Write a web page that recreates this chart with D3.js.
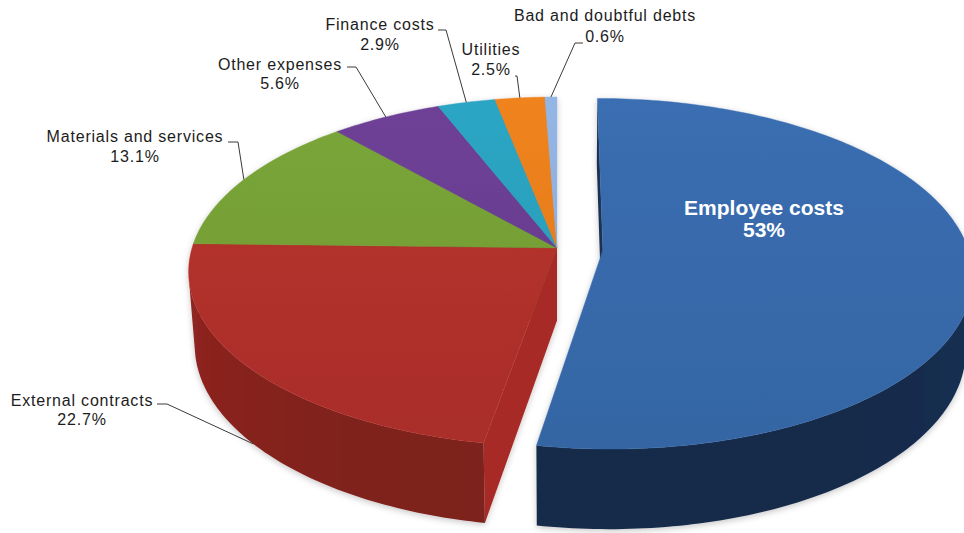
<!DOCTYPE html>
<html>
<head>
<meta charset="utf-8">
<script src="https://cdn.jsdelivr.net/npm/d3@7"></script>
<style>
  html, body { margin: 0; padding: 0; background: #ffffff; }
  svg { display: block; }
</style>
</head>
<body>
<svg id="chart" width="964" height="533"></svg>
<script>
// ---- Data ----
const categories = [
  "Employee costs",
  "External contracts",
  "Materials and services",
  "Other expenses",
  "Finance costs",
  "Utilities",
  "Bad and doubtful debts"
];
const shares = [53, 22.7, 13.1, 5.6, 2.9, 2.5, 0.6];
const valueLabels = ["53%", "22.7%", "13.1%", "5.6%", "2.9%", "2.5%", "0.6%"];

// ---- Styles ----
const topColors  = ["#386aac", "#b2302c", "#76a036", "#6a3e92", "#2aa0bd", "#e87e1e", "#8fb0dd"];
const wallColors = ["#1b3257", "#982722", "#5a7d28", "#4f2d6e", "#1f7a91", "#b45f14", "#6d8ab4"];
const cutColors  = ["#1b3253", "#a82c28", "#668d2e", "#5a357f", "#238ca5", "#cc6e18", "#7d9cc6"];

// ---- Layout of the 3D pie (perspective camera) ----
const cx = 557, cy = 248;          // screen position of the pie centre (top face)
const pxPerRadius = 365;           // projected radius at the centre depth
const tilt = Math.asin(0.47);      // camera elevation
const camDist = 6.5;               // camera distance, in pie radii
const thick = 0.229;               // slab thickness, in pie radii
const explodeDist = 0.126;         // pull-out distance of the detached slice
const explodedSlice = "Employee costs";

const focal = pxPerRadius * camDist;
const sinT = Math.sin(tilt), cosT = Math.cos(tilt);
const cam = [0, camDist * sinT, camDist * cosT];

function project([X, Y, Z]) {
  const depth = camDist - Y * sinT - Z * cosT;
  return [cx + focal * X / depth, cy - focal * (Y * cosT - Z * sinT) / depth];
}
// point on a circle of radius r at pie angle a (0 = far side, clockwise), height y
function rimPoint(a, r, y, off) {
  return [off[0] + r * Math.sin(a), y, off[2] - r * Math.cos(a)];
}
function dirOf(a) { return [Math.sin(a), 0, -Math.cos(a)]; }
function sub(p, q) { return [p[0] - q[0], p[1] - q[1], p[2] - q[2]]; }
function dot(p, q) { return p[0] * q[0] + p[1] * q[1] + p[2] * q[2]; }
function dist(p, q) { const d = sub(p, q); return Math.sqrt(dot(d, d)); }

const rows = categories.map((c, i) => ({ name: c, value: shares[i], label: valueLabels[i], i }));
const arcs = d3.pie().sort(null).value(d => d.value)(rows);

const svg = d3.select("#chart");
const defs = svg.append("defs");
const line = d3.line();

// soft shadow under the slab
const shadow = defs.append("filter").attr("id", "soft").attr("x", "-10%").attr("y", "-10%").attr("width", "120%").attr("height", "125%");
shadow.append("feDropShadow").attr("dx", 0).attr("dy", 2).attr("stdDeviation", 3)
  .attr("flood-color", "#000").attr("flood-opacity", 0.22);

// gradients for the top faces: lighter far away, darker near the viewer
arcs.forEach(a => {
  const base = d3.color(topColors[a.data.i]);
  const g = defs.append("linearGradient")
    .attr("id", "top" + a.data.i)
    .attr("gradientUnits", "userSpaceOnUse")
    .attr("x1", 0).attr("y1", 95).attr("x2", 0).attr("y2", 530);
  g.append("stop").attr("offset", 0).attr("stop-color", base.brighter(0.1));
  g.append("stop").attr("offset", 1).attr("stop-color", base.darker(0.2));
});

const sideFaces = [];
const topFaces = [];

arcs.forEach(a => {
  const i = a.data.i;
  const s = a.startAngle, e = a.endAngle, mid = (s + e) / 2;
  const k = a.data.name === explodedSlice ? explodeDist : 0;
  const off = [k * Math.sin(mid), 0, -k * Math.cos(mid)];
  a.offset = off;

  // outer wall: find runs of segments that face the camera, one shaded path per run
  const nSeg = Math.max(2, Math.ceil((e - s) / (Math.PI / 180)));
  const angAt = j => s + (e - s) * j / nSeg;
  let run = null;
  const runs = [];
  for (let j = 0; j < nSeg; j++) {
    const am = (angAt(j) + angAt(j + 1)) / 2;
    const ref = rimPoint(am, 1, -thick / 2, off);
    const vis = dot(sub(cam, ref), dirOf(am)) > 0;
    if (vis) { if (!run) { run = { j0: j, j1: j + 1 }; runs.push(run); } else run.j1 = j + 1; }
    else run = null;
  }
  runs.forEach((r, ri) => {
    const angs = d3.range(r.j0, r.j1 + 1).map(angAt);
    const topPts = angs.map(t => rimPoint(t, 1, 0, off));
    const botPts = angs.map(t => rimPoint(t, 1, -thick, off)).reverse();
    const xs = topPts.map(p => project(p)[0]);
    const id = `wall${i}_${ri}`;
    const g = defs.append("linearGradient").attr("id", id)
      .attr("gradientUnits", "userSpaceOnUse")
      .attr("x1", xs[0]).attr("y1", 0).attr("x2", xs[xs.length - 1]).attr("y2", 0);
    const span = xs[xs.length - 1] - xs[0];
    let last = 0;
    angs.forEach((t, q) => {
      const o = Math.min(1, Math.max(last, (xs[q] - xs[0]) / span));
      last = o;
      const shade = Math.max(0, -Math.cos(t));
      g.append("stop").attr("offset", o).attr("stop-color", d3.color(wallColors[i]).darker(shade * 0.55));
    });
    const midRef = rimPoint(angs[Math.floor(angs.length / 2)], 1, -thick / 2, off);
    sideFaces.push({ pts: topPts.concat(botPts), fill: `url(#${id})`, depth: dist(cam, midRef) });
  });

  // radial cut faces
  [[s, s - Math.PI / 2], [e, e + Math.PI / 2]].forEach(([ang, nAng]) => {
    const ref = rimPoint(ang, 0.5, -thick / 2, off);
    if (dot(sub(cam, ref), dirOf(nAng)) <= 1e-6) return;
    sideFaces.push({
      pts: [[off[0], 0, off[2]], rimPoint(ang, 1, 0, off), rimPoint(ang, 1, -thick, off), [off[0], -thick, off[2]]],
      fill: cutColors[i],
      depth: dist(cam, ref)
    });
  });

  // top face
  const nTop = Math.max(2, Math.ceil((e - s) / (Math.PI / 180)));
  const topPts = [[off[0], 0, off[2]]];
  for (let j = 0; j <= nTop; j++) topPts.push(rimPoint(s + (e - s) * j / nTop, 1, 0, off));
  topFaces.push({ pts: topPts, fill: `url(#top${i})`, slice: i });
});

sideFaces.sort((p, q) => q.depth - p.depth);

const pieG = svg.append("g").attr("class", "pie").attr("filter", "url(#soft)");
pieG.selectAll("path.side").data(sideFaces).join("path")
  .attr("class", "side")
  .attr("d", d => line(d.pts.map(project)) + "Z")
  .attr("fill", d => d.fill);

pieG.selectAll("path.top").data(topFaces).join("path")
  .attr("class", "top")
  .attr("d", d => line(d.pts.map(project)) + "Z")
  .attr("fill", d => d.fill)
  .attr("stroke", d => topColors[d.slice])
  .attr("stroke-width", 0.4);

// ---- Labels ----
const labelLayout = {
  "External contracts":     { x: 82,  y: 406, gap: 19, hook: [[157, 404], [167, 404]] },
  "Materials and services": { x: 135, y: 142, gap: 20, hook: [[228, 142], [238, 142]] },
  "Other expenses":         { x: 280, y: 70,  gap: 19, hook: [[347, 67], [356, 67]] },
  "Finance costs":          { x: 380, y: 30,  gap: 20, hook: [[438, 30], [446, 30]] },
  "Utilities":              { x: 491, y: 55,  gap: 20, hook: [[515, 76], [517, 76]] },
  "Bad and doubtful debts": { x: 605, y: 21,  gap: 21, hook: [[583, 43], [575, 43]] }
};

const labelG = svg.append("g").attr("class", "labels");
arcs.forEach(a => {
  const lay = labelLayout[a.data.name];
  if (!lay) return;
  const mid = (a.startAngle + a.endAngle) / 2;
  // leader ends on the visible wall bottom for front slices, on the top rim otherwise
  const front = -Math.cos(mid) > 0.2;
  const end = project(rimPoint(mid, 1, front ? -thick : 0, a.offset));
  labelG.append("path")
    .attr("d", line([...lay.hook, end]))
    .attr("fill", "none")
    .attr("stroke", "#3a3a3a")
    .attr("stroke-width", 1);
  const t = labelG.append("text")
    .attr("text-anchor", "middle")
    .attr("font-family", "'Liberation Sans', Arial, sans-serif")
    .attr("font-size", 16)
    .attr("letter-spacing", "0.8px")
    .attr("fill", "#1c1c1c");
  t.append("tspan").attr("x", lay.x).attr("y", lay.y).text(a.data.name);
  t.append("tspan").attr("x", lay.x).attr("y", lay.y + lay.gap).text(a.data.label);
});

// label inside the detached slice
const bigArc = arcs.find(a => a.data.name === explodedSlice);
const inner = labelG.append("text")
  .attr("text-anchor", "middle")
  .attr("font-family", "'Liberation Sans', Arial, sans-serif")
  .attr("font-weight", "bold")
  .attr("font-size", 21)
  .attr("fill", "#ffffff");
inner.append("tspan").attr("x", 764).attr("y", 215).text(bigArc.data.name);
inner.append("tspan").attr("x", 764).attr("y", 237).text(bigArc.data.label);
</script>
</body>
</html>
